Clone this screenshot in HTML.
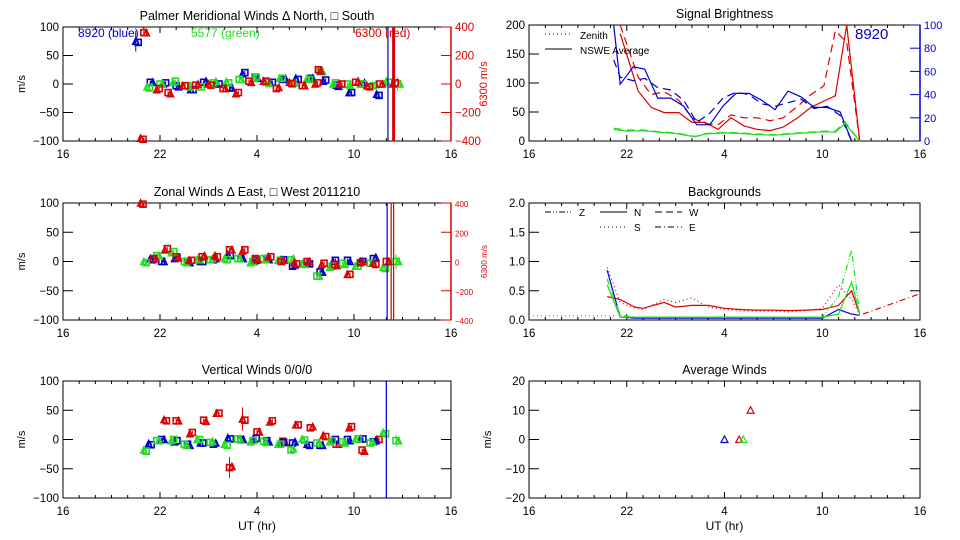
<!DOCTYPE html>
<html><head><meta charset="utf-8"><style>
html,body{margin:0;padding:0;background:#fff;}
svg{display:block;font-family:"Liberation Sans",sans-serif;}
</style></head><body>
<svg id="chart" width="960" height="540" viewBox="0 0 960 540" xmlns="http://www.w3.org/2000/svg"></svg>
<script>
// ---------- data ----------
const xTickLabels = ['16','22','4','10','16'];
const xTickHours = [16,22,28,34,40];

// Panel 1: meridional (hour, value)
const merBlueT = [20.5,21.4,22.2,23.0,23.9,24.7,25.5,26.3,27.1,27.9,28.8,29.6,30.4,31.3,32.1,32.9,33.7,34.5,35.4];
const merBlueV = [75,3,0,-3,-10,3,2,-7,18,12,3,8,10,10,5,-2,-15,0,-18];
const merGreenT = [21.2,22.0,22.8,23.7,24.4,25.3,26.1,26.9,27.8,28.6,29.4,30.2,31.1,31.9,32.7,33.6,34.4,35.2,36.0,36.7];
const merGreenV = [-5,0,3,-3,-5,2,4,8,10,3,10,0,10,22,0,0,0,-3,5,0];
const merRedT = [20.8,21.0,21.8,22.5,23.4,24.2,25.0,25.9,26.7,27.5,28.4,29.2,30.0,30.8,31.6,31.8,33.1,34.1,34.8,35.6,36.4];
const merRedV = [-95,90,-10,-15,-3,-2,0,-8,-17,5,5,-8,3,-3,0,25,0,3,-3,0,0];

// Panel 2: zonal
const zonBlueT = [21.4,22.1,22.9,23.7,24.5,25.3,26.2,27.0,27.8,28.6,29.5,30.2,31.1,31.9,32.7,33.6,34.4,35.2];
const zonBlueV = [5,0,5,0,0,3,12,5,0,5,3,-8,-2,-18,0,2,0,5];
const zonGreenT = [21.0,21.8,22.7,23.5,24.3,25.1,26.0,26.8,27.6,28.4,29.3,30.1,30.8,31.7,32.5,33.3,34.1,35.0,35.8,36.6];
const zonGreenV = [0,10,15,0,3,3,5,5,-2,5,2,3,-3,-25,-10,-3,-8,-3,-10,0];
const zonRedT = [20.8,21.6,22.3,23.0,23.8,24.6,25.4,26.3,27.1,27.9,28.7,29.5,30.3,31.1,32.0,32.8,33.6,34.4,35.2,36.0];
const zonRedV = [100,5,20,8,2,8,10,20,18,5,8,0,-2,0,-5,-5,-22,-2,-3,0];

// Panel 3: vertical
const verRedT = [22.25,23.0,23.85,24.7,25.5,26.3,27.1,28.0,28.8,29.6,30.4,31.3,32.1,32.9,33.7,34.5,35.4];
const verRedV = [34,32,10,33,45,-48,35,13,30,-3,25,20,7,-8,20,-18,0];
const verBlueT = [21.3,22.1,22.9,23.7,24.5,25.3,26.2,27.0,27.8,28.6,29.5,30.2,31.1,31.9,32.7,33.6,34.4,35.2];
const verBlueV = [-7,0,-4,-8,-6,-8,3,0,0,-2,-5,-6,-8,-10,-2,0,1,-4];
const verGreenT = [21.0,21.8,22.7,23.5,24.3,25.1,26.0,26.8,27.6,28.4,29.3,30.1,30.8,31.7,32.5,33.3,34.1,35.0,35.8,36.6];
const verGreenV = [-18,-2,-2,-8,0,-5,-8,1,-4,-3,-8,-18,1,-6,-4,-4,1,-6,12,-2];

// Panel 4: signal brightness
const briRedT = [21.6,22.7,23.5,24.3,25.2,26.0,26.8,27.6,28.4,29.2,30.0,30.8,31.6,32.5,33.3,34.1,34.8,35.5,36.3];
const briRedSolid = [185,86,58,49,49,32,32,20,40,26,20,18,24,40,58,69,78,200,0];
const briRedDash = [200,110,80,85,70,40,30,28,45,40,40,35,40,60,80,95,190,170,0];
const briBlueT = [21.2,21.6,22.4,23.1,23.9,24.7,25.5,26.3,27.1,27.9,28.7,29.5,30.3,31.1,31.9,32.7,33.5,34.3,35.1,35.8];
const briBlueSolid = [100,49,64,62,37,37,30,14,14,30,41,41,35,27,43,38,29,29,25,0];
const briBlueDash = [70,55,52,54,46,44,35,16,24,37,42,40,32,30,33,36,28,30,22,0];
const briGreenT = [21.2,22.0,23.0,24.0,25.0,26.2,26.8,28.0,29.0,30.0,31.0,32.0,33.0,34.2,34.8,35.4,36.3];
const briGreenSolid = [20,17,18,15,13,7,12,14,13,11,10,12,14,16,15,30,0];
const briGreenDash = [22,19,19,16,14,8,13,15,14,12,11,13,15,17,17,33,0];

// Panel 5: backgrounds
const bgT = [20.8,21.6,22.5,23.0,24.3,25.0,26.0,27.0,28.0,29.0,30.0,31.0,32.0,33.0,34.0,35.0,35.8,36.3];
const bgRedN = [0.4,0.35,0.22,0.2,0.3,0.22,0.25,0.25,0.2,0.18,0.17,0.17,0.16,0.17,0.18,0.25,0.5,0.1];
const bgRedS = [0.9,0.3,0.2,0.18,0.35,0.3,0.38,0.22,0.18,0.16,0.15,0.15,0.14,0.16,0.2,0.6,0.35,0.1];
const bgBlue = [0.85,0.05,0.03,0.03,0.03,0.03,0.03,0.03,0.03,0.03,0.03,0.03,0.03,0.03,0.03,0.18,0.1,0.08];
const bgGreen = [0.6,0.05,0.05,0.05,0.05,0.05,0.05,0.05,0.05,0.05,0.05,0.05,0.05,0.05,0.05,0.1,0.65,0.1];
const bgGreenZ = [0.7,0.08,0.05,0.05,0.05,0.05,0.05,0.05,0.05,0.05,0.05,0.05,0.05,0.05,0.05,0.4,1.2,0.1];
const bgRedTailT = [36.5,40];
const bgRedTailV = [0.1,0.45];

// Panel 6: average winds
const avgT = [28.0,28.9,29.15,29.6];
const avgV = [0,0,0,10];
const avgColors = ['#0000cc','#dd0000','#22dd22','#dd0000'];

// ---------- helpers ----------
const svg = document.getElementById('chart');
const NS = 'http://www.w3.org/2000/svg';
function el(tag, attrs, parent){
  const e = document.createElementNS(NS, tag);
  for (const k in attrs) e.setAttribute(k, attrs[k]);
  (parent||svg).appendChild(e);
  return e;
}
function txt(x,y,s,size,fill,anchor,rot,parent){
  const t = el('text',{x:x,y:y,'font-size':size,fill:fill,'text-anchor':anchor||'middle'},parent);
  if (rot) t.setAttribute('transform','rotate('+rot+' '+x+' '+y+')');
  t.textContent = s;
  return t;
}
function panel(name,x0,x1,y0,y1,ymin,ymax,yticks,ylabels,title,opts){
  const g = el('g',{});
  
  
  const sx = h => x0 + (h-16)/(40-16)*(x1-x0);
  const sy = v => y1 - (v-ymin)/(ymax-ymin)*(y1-y0);
  const frame = el('rect',{x:x0,y:y0,width:x1-x0,height:y1-y0,fill:'none',stroke:'#000','stroke-width':1},g);
  
  
  const tt = txt((x0+x1)/2, y0-7, title, 12.5, '#000','middle',0,g);
  
  
  // x ticks
  for (let h=16; h<=40; h++){
    const major = (h-16)%6===0;
    const L = major?6:3;
    el('line',{x1:sx(h),x2:sx(h),y1:y1,y2:y1-L,stroke:'#000'},g);
    el('line',{x1:sx(h),x2:sx(h),y1:y0,y2:y0+L,stroke:'#000'},g);
  }
  xTickHours.forEach((h,i)=>{
    const t = txt(sx(h), y1+17, xTickLabels[i], 11.5,'#000','middle',0,g);
    
    
  });
  yticks.forEach((v,i)=>{
    el('line',{x1:x0,x2:x0+10,y1:sy(v),y2:sy(v),stroke:'#000'},g);
    if (!opts.noRightTicks) el('line',{x1:x1,x2:x1-10,y1:sy(v),y2:sy(v),stroke:'#000'},g);
    const t = txt(x0-4, sy(v)+4, ylabels[i], 11.5,'#000','end',0,g);
    
    
  });
  if (opts.ytitle){
    const t = txt(x0-38,(y0+y1)/2,opts.ytitle,11,'#000','middle',-90,g);
    
    
  }
  if (opts.xtitle){
    const t = txt((x0+x1)/2,y1+32,opts.xtitle,12,'#000','middle',0,g);
    
    
  }
  return {g,sx,sy,x0,x1,y0,y1};
}
function marker(p,h,v,color,type,err,parentName){
  const x = p.sx(h), y = p.sy(v);
  if (y < p.y0-3 || y > p.y1+3) return;
  const m = type==='tri'
    ? el('polygon',{points:(x-3)+','+(y+3)+' '+(x+3)+','+(y+3)+' '+x+','+(y-3),fill:'none',stroke:color,'stroke-width':1.6},p.g)
    : el('rect',{x:x-3,y:y-3,width:6,height:6,fill:'none',stroke:color,'stroke-width':1.6},p.g);
  
  
  const e = err||3;
  el('line',{x1:x,x2:x,y1:y-e*(p.y1-p.y0)/200,y2:y+e*(p.y1-p.y0)/200,stroke:color,'stroke-width':1},p.g);
}
function series(p,T,V,color,name,errFn){
  T.forEach((h,i)=>{
    marker(p,h,V[i],color,i%2?'sq':'tri',errFn?errFn(i):null,name);
    marker(p,h+0.15,V[i]+(i%3-1)*2,color,i%2?'tri':'sq',null,name);
  });
}
function line(p,T,V,color,dash,name,sy2){
  const syf = sy2||p.sy;
  let d='';
  T.forEach((h,i)=>{
    let y = syf(V[i]); y=Math.max(p.y0,Math.min(p.y1,y));
    d += (i?'L':'M')+p.sx(h).toFixed(1)+','+y.toFixed(1);
  });
  const pa = el('path',{d:d,fill:'none',stroke:color,'stroke-width':1.2},p.g);
  if (dash) pa.setAttribute('stroke-dasharray',dash);
  
  
}
function vline(p,h,color,w){
  const l = el('line',{x1:p.sx(h),x2:p.sx(h),y1:p.y0,y2:p.y1,stroke:color,'stroke-width':w},p.g);
  
  
}
function redAxis(p,labels,vals,size,labelSize){
  vals.forEach((v,i)=>{
    const y = p.y1 - (v+400)/800*(p.y1-p.y0);
    el('line',{x1:p.x1,x2:p.x1-10,y1:y,y2:y,stroke:'#dd0000'},p.g);
    const t = txt(p.x1+4,y+4,labels[i],size,'#dd0000','start',0,p.g);
    
    
  });
  el('line',{x1:p.x1,x2:p.x1,y1:p.y0,y2:p.y1,stroke:'#dd0000','stroke-width':1.5},p.g);
  const t = txt(p.x1+36,(p.y0+p.y1)/2,'6300 m/s',labelSize,'#dd0000','middle',-90,p.g);
  
  
}

const LX0=63, LX1=451, RX0=529, RX1=920;
const redVals=[400,200,0,-200,-400], redLabs=['400','200','0','\u2212200','\u2212400'];
const wTicks=[100,50,0,-50,-100], wLabs=['100','50','0','\u221250','\u2212100'];

// Panel 1
const p1 = panel('meridional-winds-panel',LX0,LX1,27,141,-100,100,wTicks,wLabs,'Palmer Meridional Winds \u0394 North, \u25A1 South',{ytitle:'m/s',noRightTicks:true});
series(p1,merBlueT,merBlueV,'#0000cc','blue-point',i=>i===0?18:3);
series(p1,merGreenT,merGreenV,'#22dd22','green-point',i=>i===19?12:3);
series(p1,merRedT,merRedV,'#dd0000','red-point');
vline(p1,36.1,'#0000cc',1.2); vline(p1,36.45,'#dd0000',3);
redAxis(p1,redLabs,redVals,11.5,11);
[['8920 (blue)',78,'#0000cc','legend-blue'],['5577 (green)',191,'#22dd22','legend-green'],['6300 (red)',355,'#dd0000','legend-red']].forEach(a=>{
  const t=txt(a[1],37,a[0],12,a[2],'start',0,p1.g);
  
  
});

// Panel 2
const p2 = panel('zonal-winds-panel',LX0,LX1,203,320,-100,100,wTicks,wLabs,'Zonal Winds \u0394 East, \u25A1 West 2011210',{ytitle:'m/s',noRightTicks:true});
series(p2,zonBlueT,zonBlueV,'#0000cc','blue-point');
series(p2,zonGreenT,zonGreenV,'#22dd22','green-point',i=>i===19?12:3);
series(p2,zonRedT,zonRedV,'#dd0000','red-point');
vline(p2,36.05,'#0000cc',1.2); vline(p2,36.3,'#dd0000',1.2); vline(p2,36.45,'#dd0000',1.2);
redAxis(p2,redLabs,redVals,8,8);

// Panel 3
const p3 = panel('vertical-winds-panel',LX0,LX1,381,498,-100,100,wTicks,wLabs,'Vertical Winds 0/0/0',{ytitle:'m/s',xtitle:'UT (hr)'});
series(p3,verRedT,verRedV,'#dd0000','red-point',i=>i===5?18:(i===6?20:(i===4||i===8||i===12?6:3)));
series(p3,verBlueT,verBlueV,'#0000cc','blue-point');
series(p3,verGreenT,verGreenV,'#22dd22','green-point',i=>i===19?10:3);
vline(p3,36.0,'#0000cc',1.2);

// Panel 4
const p4 = panel('signal-brightness-panel',RX0,RX1,25,141,0,200,[200,150,100,50,0],['200','150','100','50','0'],'Signal Brightness',{noRightTicks:true});
const syB = v => p4.y1 - v/100*(p4.y1-p4.y0);
[0,20,40,60,80,100].forEach(v=>{
  el('line',{x1:RX1,x2:RX1-10,y1:syB(v),y2:syB(v),stroke:'#0000cc'},p4.g);
  const t=txt(RX1+4,syB(v)+4,String(v),11,'#0000cc','start',0,p4.g);
  
  
});
el('line',{x1:RX1,x2:RX1,y1:p4.y0,y2:p4.y1,stroke:'#0000cc','stroke-width':1.5},p4.g);
line(p4,briRedT,briRedSolid,'#dd0000',null,'red-nswe-line');
line(p4,briRedT,briRedDash,'#dd0000','8,5','red-zenith-line');
line(p4,briBlueT,briBlueSolid,'#0000cc',null,'blue-nswe-line',syB);
line(p4,briBlueT,briBlueDash,'#0000cc','8,5','blue-zenith-line',syB);
line(p4,briGreenT,briGreenSolid,'#22dd22',null,'green-nswe-line');
line(p4,briGreenT,briGreenDash,'#22dd22','8,5','green-zenith-line');
el('line',{x1:545,x2:572,y1:34,y2:34,stroke:'#000','stroke-dasharray':'1,3'},p4.g);
el('line',{x1:545,x2:572,y1:49,y2:49,stroke:'#000'},p4.g);
let t4=txt(580,39,'Zenith',10,'#000','start',0,p4.g);


t4=txt(580,54,'NSWE Average',10,'#000','start',0,p4.g);


t4=txt(855,39,'8920',15,'#0000cc','start',0,p4.g);



// Panel 5
const p5 = panel('backgrounds-panel',RX0,RX1,203,320,0,2,[2,1.5,1,0.5,0],['2.0','1.5','1.0','0.5','0.0'],'Backgrounds',{});
line(p5,[16,21.4],[0.07,0.07],'#22dd22','1,3','green-zenith-flat');
line(p5,bgT,bgRedN,'#dd0000',null,'red-n-line');
line(p5,bgT,bgRedS,'#dd0000','1,3','red-s-line');
line(p5,bgT,bgBlue,'#0000cc',null,'blue-line');
line(p5,bgT,bgGreen,'#22dd22',null,'green-line');
line(p5,bgT,bgGreenZ,'#22dd22','6,2,1,2,1,2','green-z-line');
line(p5,bgRedTailT,bgRedTailV,'#dd0000','6,3,1,3','red-tail-line');
[['Z',545,212,'6,2,1,2,1,2'],['N',600,212,null],['W',655,212,'7,4'],['S',600,227,'1,3'],['E',655,227,'6,3,1,3']].forEach(a=>{
  const l=el('line',{x1:a[1],x2:a[1]+27,y1:a[2],y2:a[2],stroke:'#000'},p5.g);
  if (a[3]) l.setAttribute('stroke-dasharray',a[3]);
  const t=txt(a[1]+34,a[2]+4,a[0],10,'#000','start',0,p5.g);
  
  
});

// Panel 6
const p6 = panel('average-winds-panel',RX0,RX1,381,498,-20,20,[20,10,0,-10,-20],['20','10','0','\u221210','\u221220'],'Average Winds',{ytitle:'m/s',xtitle:'UT (hr)'});
avgT.forEach((h,i)=>{
  const x=p6.sx(h), y=p6.sy(avgV[i]);
  const m=el('polygon',{points:(x-3.5)+','+(y+3)+' '+(x+3.5)+','+(y+3)+' '+x+','+(y-3.5),fill:'none',stroke:avgColors[i],'stroke-width':1.2},p6.g);
  
  
});
</script>
</body></html>
